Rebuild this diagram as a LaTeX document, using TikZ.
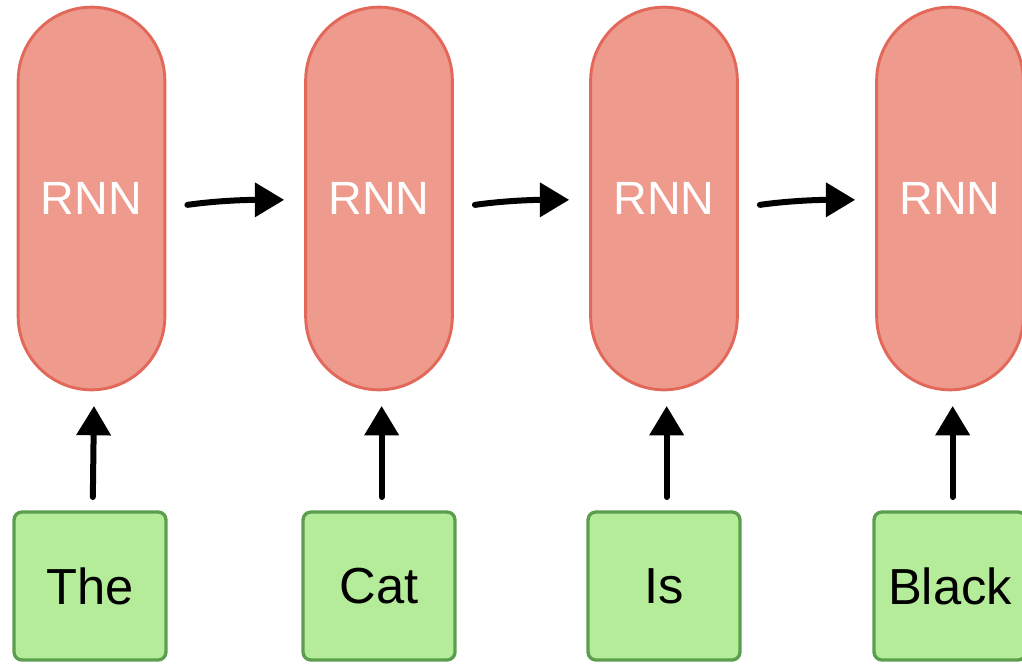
\documentclass[tikz,border=0pt]{standalone}
\usepackage{fontspec}
\setmainfont{Liberation Sans}
\usetikzlibrary{arrows.meta}
\definecolor{pillfill}{HTML}{EE9A8D}
\definecolor{pilldraw}{HTML}{E2685A}
\definecolor{boxfill}{HTML}{B5EC9A}
\definecolor{boxdraw}{HTML}{5A9E4E}
\tikzset{
  pill/.style={draw=pilldraw, fill=pillfill, line width=2.2pt, rounded corners=55pt,
    minimum width=110pt, minimum height=287pt, inner sep=0pt, text=white,
    font=\fontsize{35}{38}\selectfont},
  word/.style={draw=boxdraw, fill=boxfill, line width=2.5pt, rounded corners=6pt,
    minimum width=114pt, minimum height=111pt, inner sep=0pt, text=black,
    font=\fontsize{38}{42}\selectfont},
  arr/.style={line width=4.5pt, line cap=round, -{Triangle[length=22pt,width=25pt]}}
}
\begin{document}
\begin{tikzpicture}[x=0.75pt,y=-0.75pt]
\useasboundingbox (0,0) rectangle (1022,664);
\node[pill] (p1) at (91.5,198.5) {\raisebox{-3pt}{RNN}};
\node[pill] (p2) at (379,198.5) {\raisebox{-3pt}{RNN}};
\node[pill] (p3) at (664,198.5) {\raisebox{-3pt}{RNN}};
\node[pill] (p4) at (950,198.5) {\raisebox{-3pt}{RNN}};
\node[word] (w1) at (90,586) {The};
\node[word] (w2) at (379,586) {Cat};
\node[word] (w3) at (664,586) {Is};
\node[word] (w4) at (950,586) {Black};
\foreach \a/\b in {p1/p2,p2/p3,p3/p4}{
  \draw[arr, shorten <=16pt, shorten >=15pt] ([yshift=-7pt]\a.east) to[out=8,in=180] ([yshift=-1pt]\b.west);
}
\foreach \w/\p in {w1/p1,w2/p2,w3/p3,w4/p4}{
  \draw[arr, shorten <=10pt, shorten >=11pt] ([xshift=2pt]\w.north) -- ([xshift=2pt]\p.south);
}
\end{tikzpicture}
\end{document}
